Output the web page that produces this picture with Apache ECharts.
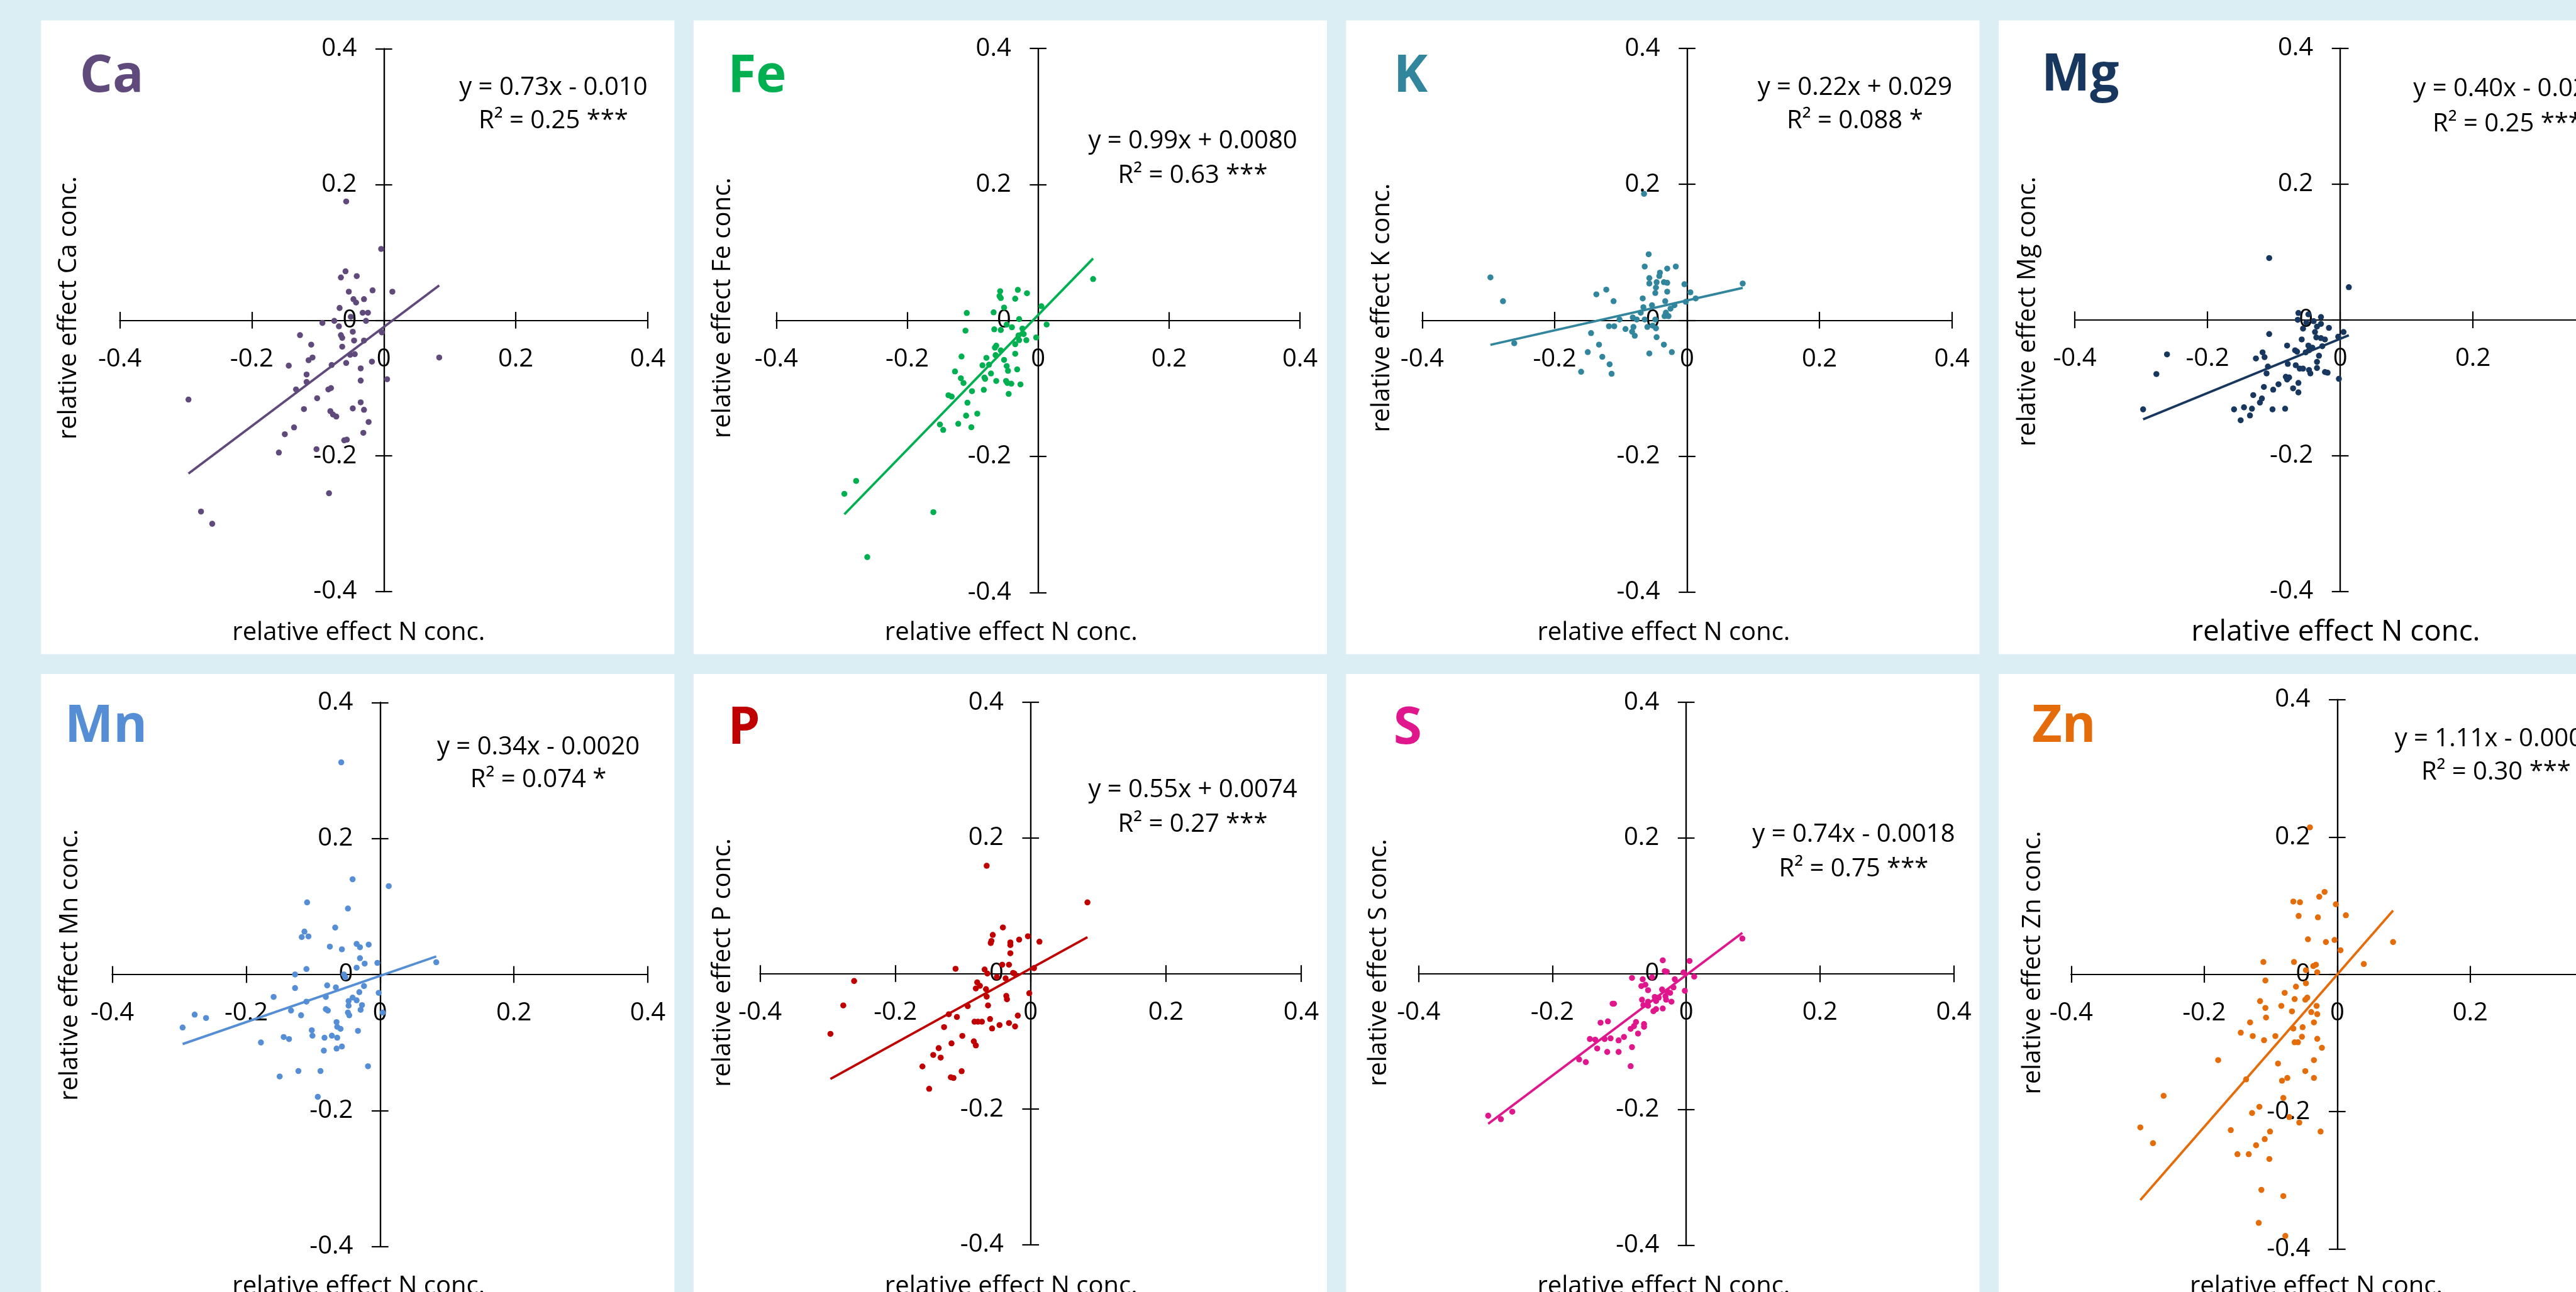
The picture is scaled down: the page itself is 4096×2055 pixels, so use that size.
<!DOCTYPE html>
<html><head><meta charset="utf-8">
<script src="https://cdn.jsdelivr.net/npm/echarts@6/dist/echarts.min.js"></script>
<style>html,body{margin:0;padding:0;background:#DAEEF3;overflow:hidden}#c{width:4096px;height:2055px}</style>
</head><body><div id="c"></div>
<script>
// ---------------- data ----------------
const elements = ['Ca','Fe','K','Mg','Mn','P','S','Zn'];
const slopes = [0.73, 0.99, 0.22, 0.40, 0.34, 0.55, 0.74, 1.11];
const intercepts = [-0.010, 0.0080, 0.029, -0.028, -0.0020, 0.0074, -0.0018, -0.0003];
const eqLabels = ['y = 0.73x - 0.010','y = 0.99x + 0.0080','y = 0.22x + 0.029','y = 0.40x - 0.028',
                  'y = 0.34x - 0.0020','y = 0.55x + 0.0074','y = 0.74x - 0.0018','y = 1.11x - 0.0003'];
const r2Labels = ['R² = 0.25 ***','R² = 0.63 ***','R² = 0.088 *','R² = 0.25 ***',
                  'R² = 0.074 *','R² = 0.27 ***','R² = 0.75 ***','R² = 0.30 ***'];
const tickValues = [-0.4, -0.2, 0, 0.2, 0.4];
const xTitle = 'relative effect N conc.';

const Ca = [[-0.057,0.175],[-0.004,0.105],[-0.058,0.072],[-0.065,0.063],[-0.041,0.065],[-0.053,0.042],[-0.017,0.044],[0.013,0.042],[-0.046,0.031],[-0.042,0.026],[-0.030,0.031],[-0.067,0.018],[-0.032,0.011],[-0.024,0.011],[-0.050,0.005],[-0.027,-0.001],[-0.075,-0.001],[-0.093,-0.004],[-0.068,-0.009],[-0.047,-0.017],[-0.003,-0.018],[-0.065,-0.022],[-0.063,-0.026],[-0.127,-0.022],[-0.045,-0.030],[-0.030,-0.030],[-0.110,-0.036],[-0.063,-0.039],[-0.051,-0.051],[-0.044,-0.050],[-0.108,-0.055],[-0.114,-0.059],[-0.144,-0.067],[-0.079,-0.066],[-0.057,-0.063],[-0.018,-0.061],[-0.035,-0.071],[-0.117,-0.080],[-0.117,-0.091],[-0.035,-0.089],[0.005,-0.087],[0.084,-0.055],[-0.133,-0.102],[-0.084,-0.102],[-0.080,-0.100],[-0.101,-0.115],[-0.035,-0.121],[-0.121,-0.131],[-0.047,-0.130],[-0.030,-0.132],[-0.081,-0.134],[-0.077,-0.139],[-0.072,-0.142],[-0.296,-0.117],[-0.023,-0.150],[-0.136,-0.158],[-0.150,-0.168],[-0.031,-0.166],[-0.060,-0.177],[-0.056,-0.176],[-0.159,-0.195],[-0.102,-0.190],[-0.083,-0.255],[-0.277,-0.282],[-0.260,-0.300]];
const Fe = [[0.084,0.061],[-0.058,0.043],[-0.059,0.036],[-0.057,0.033],[-0.031,0.045],[-0.017,0.040],[-0.035,0.032],[-0.052,0.019],[0.005,0.021],[-0.109,0.011],[-0.068,0.012],[-0.029,0.002],[-0.048,-0.006],[-0.040,-0.010],[-0.067,-0.013],[-0.057,-0.014],[0.013,-0.006],[-0.111,-0.015],[-0.024,-0.012],[-0.022,-0.020],[-0.030,-0.022],[-0.003,-0.025],[-0.029,-0.029],[-0.018,-0.029],[-0.035,-0.035],[-0.064,-0.037],[-0.066,-0.040],[-0.057,-0.044],[-0.035,-0.049],[-0.065,-0.051],[-0.117,-0.053],[-0.079,-0.055],[-0.052,-0.058],[-0.085,-0.066],[-0.075,-0.065],[-0.048,-0.067],[-0.046,-0.074],[-0.032,-0.072],[-0.127,-0.075],[-0.072,-0.078],[-0.118,-0.085],[-0.082,-0.084],[-0.081,-0.086],[-0.114,-0.092],[-0.064,-0.089],[-0.049,-0.089],[-0.047,-0.092],[-0.041,-0.093],[-0.027,-0.094],[-0.101,-0.104],[-0.083,-0.102],[-0.045,-0.108],[-0.137,-0.110],[-0.132,-0.112],[-0.108,-0.121],[-0.093,-0.137],[-0.110,-0.140],[-0.150,-0.153],[-0.122,-0.152],[-0.145,-0.161],[-0.102,-0.157],[-0.278,-0.236],[-0.296,-0.255],[-0.160,-0.282],[-0.261,-0.348]];
const K = [[-0.065,0.186],[-0.058,0.097],[-0.064,0.079],[-0.017,0.079],[-0.030,0.076],[-0.041,0.070],[-0.042,0.065],[-0.057,0.062],[-0.057,0.054],[-0.046,0.056],[-0.035,0.056],[-0.030,0.055],[-0.047,0.048],[-0.004,0.053],[-0.297,0.063],[0.084,0.054],[-0.048,0.040],[-0.030,0.042],[-0.122,0.045],[-0.137,0.038],[0.005,0.041],[-0.067,0.032],[0.013,0.032],[-0.111,0.028],[-0.033,0.028],[-0.278,0.028],[-0.002,0.027],[-0.053,0.022],[-0.019,0.022],[-0.066,0.019],[-0.025,0.017],[-0.070,0.011],[-0.032,0.011],[-0.034,0.006],[-0.028,0.006],[-0.082,0.004],[-0.102,0.001],[-0.076,0.001],[-0.064,0.001],[-0.048,0.001],[-0.118,-0.009],[-0.110,-0.009],[-0.060,-0.010],[-0.052,-0.008],[-0.047,-0.012],[-0.093,-0.013],[-0.081,-0.010],[-0.083,-0.017],[-0.079,-0.023],[-0.145,-0.019],[-0.046,-0.025],[-0.261,-0.034],[-0.133,-0.036],[-0.035,-0.036],[-0.150,-0.047],[-0.057,-0.049],[-0.023,-0.047],[-0.128,-0.054],[-0.117,-0.065],[-0.160,-0.076],[-0.114,-0.079]];
const Mg = [[-0.107,0.091],[0.013,0.048],[-0.063,0.010],[-0.048,0.008],[-0.029,0.004],[-0.064,0.000],[-0.051,-0.004],[-0.040,-0.002],[-0.029,-0.006],[-0.035,-0.010],[-0.056,-0.013],[-0.017,-0.012],[-0.038,-0.018],[0.005,-0.018],[-0.107,-0.021],[-0.003,-0.025],[-0.058,-0.029],[-0.036,-0.026],[-0.029,-0.027],[-0.023,-0.029],[-0.080,-0.038],[-0.048,-0.038],[-0.042,-0.041],[-0.027,-0.039],[-0.068,-0.045],[-0.065,-0.047],[-0.117,-0.048],[-0.052,-0.048],[-0.047,-0.045],[-0.114,-0.055],[-0.127,-0.057],[-0.032,-0.053],[-0.035,-0.062],[-0.079,-0.065],[-0.067,-0.067],[-0.109,-0.069],[-0.061,-0.072],[-0.056,-0.072],[-0.047,-0.074],[-0.035,-0.071],[-0.111,-0.079],[-0.045,-0.079],[-0.023,-0.077],[-0.019,-0.078],[-0.082,-0.084],[-0.077,-0.085],[-0.080,-0.088],[-0.002,-0.087],[-0.063,-0.093],[-0.093,-0.095],[-0.115,-0.099],[-0.101,-0.103],[-0.071,-0.101],[-0.063,-0.107],[-0.131,-0.111],[-0.118,-0.116],[-0.121,-0.122],[-0.145,-0.129],[-0.133,-0.131],[-0.160,-0.132],[-0.102,-0.132],[-0.083,-0.131],[-0.136,-0.141],[-0.150,-0.148],[-0.261,-0.051],[-0.277,-0.080],[-0.297,-0.132]];
const Mn = [[-0.058,0.312],[-0.041,0.140],[0.013,0.130],[-0.109,0.106],[-0.048,0.097],[-0.067,0.069],[-0.113,0.063],[-0.117,0.055],[-0.107,0.056],[-0.075,0.041],[-0.057,0.037],[-0.035,0.045],[-0.030,0.040],[-0.017,0.044],[-0.030,0.024],[-0.023,0.016],[-0.004,0.017],[0.084,0.018],[-0.110,0.008],[-0.035,0.010],[-0.127,0.000],[-0.054,0.000],[-0.052,-0.004],[-0.079,-0.016],[-0.066,-0.019],[-0.024,-0.017],[-0.127,-0.020],[-0.031,-0.026],[-0.002,-0.027],[-0.159,-0.033],[-0.081,-0.033],[-0.041,-0.034],[-0.047,-0.039],[-0.035,-0.038],[-0.110,-0.040],[-0.047,-0.046],[-0.027,-0.045],[-0.081,-0.051],[-0.078,-0.053],[-0.029,-0.052],[-0.133,-0.053],[-0.048,-0.056],[-0.046,-0.060],[0.004,-0.056],[-0.118,-0.060],[-0.277,-0.059],[-0.260,-0.064],[-0.295,-0.078],[-0.065,-0.070],[-0.064,-0.077],[-0.059,-0.080],[-0.102,-0.082],[-0.033,-0.083],[-0.144,-0.092],[-0.136,-0.095],[-0.101,-0.090],[-0.083,-0.093],[-0.072,-0.090],[-0.064,-0.093],[-0.178,-0.100],[-0.084,-0.112],[-0.065,-0.109],[-0.057,-0.106],[-0.018,-0.135],[-0.122,-0.142],[-0.089,-0.142],[-0.150,-0.150],[-0.093,-0.180]];
const P = [[-0.065,0.159],[0.084,0.105],[-0.041,0.068],[-0.056,0.057],[-0.004,0.055],[-0.017,0.050],[-0.058,0.048],[-0.059,0.045],[-0.030,0.046],[-0.030,0.042],[0.013,0.047],[-0.030,0.030],[-0.042,0.013],[-0.032,0.013],[0.005,0.008],[-0.111,0.007],[-0.068,0.006],[-0.064,0.000],[-0.026,0.001],[-0.024,0.000],[-0.050,-0.005],[-0.037,-0.007],[-0.261,-0.011],[-0.079,-0.013],[-0.075,-0.018],[-0.081,-0.022],[-0.066,-0.023],[-0.065,-0.034],[-0.002,-0.029],[-0.036,-0.033],[-0.035,-0.038],[-0.277,-0.047],[-0.093,-0.048],[-0.063,-0.047],[-0.121,-0.060],[-0.109,-0.064],[-0.019,-0.062],[-0.083,-0.071],[-0.078,-0.071],[-0.072,-0.071],[-0.060,-0.067],[-0.032,-0.073],[-0.046,-0.076],[-0.023,-0.078],[-0.057,-0.081],[-0.128,-0.079],[-0.296,-0.089],[-0.101,-0.092],[-0.084,-0.100],[-0.081,-0.106],[-0.117,-0.103],[-0.136,-0.110],[-0.144,-0.120],[-0.133,-0.124],[-0.160,-0.137],[-0.102,-0.144],[-0.118,-0.153],[-0.114,-0.154],[-0.150,-0.170]];
const S_ = [[0.084,0.052],[-0.035,0.020],[0.005,0.019],[-0.032,0.004],[-0.029,0.003],[-0.004,0.002],[-0.051,-0.005],[-0.081,-0.006],[-0.065,-0.008],[0.012,-0.004],[-0.017,-0.008],[-0.061,-0.016],[-0.067,-0.018],[-0.019,-0.020],[-0.036,-0.023],[-0.057,-0.024],[-0.028,-0.026],[-0.002,-0.025],[-0.024,-0.028],[-0.047,-0.034],[-0.041,-0.035],[-0.031,-0.033],[-0.066,-0.038],[-0.030,-0.038],[-0.022,-0.041],[-0.057,-0.041],[-0.045,-0.040],[-0.064,-0.046],[-0.057,-0.047],[-0.110,-0.044],[-0.108,-0.044],[-0.035,-0.051],[-0.049,-0.055],[-0.045,-0.052],[-0.117,-0.070],[-0.128,-0.072],[-0.075,-0.071],[-0.063,-0.074],[-0.063,-0.078],[-0.078,-0.077],[-0.083,-0.081],[-0.072,-0.088],[-0.144,-0.096],[-0.136,-0.097],[-0.122,-0.096],[-0.113,-0.095],[-0.093,-0.093],[-0.101,-0.098],[-0.133,-0.110],[-0.118,-0.115],[-0.101,-0.115],[-0.081,-0.108],[-0.160,-0.126],[-0.150,-0.130],[-0.083,-0.136],[-0.296,-0.209],[-0.277,-0.214],[-0.260,-0.203]];
const Zn = [[-0.041,0.214],[-0.019,0.120],[-0.027,0.113],[-0.066,0.106],[-0.056,0.105],[-0.002,0.102],[0.013,0.086],[-0.058,0.085],[-0.029,0.083],[-0.044,0.051],[-0.017,0.047],[-0.004,0.050],[0.084,0.047],[0.005,0.035],[-0.111,0.018],[-0.065,0.018],[0.040,0.015],[-0.032,0.014],[-0.036,0.012],[-0.030,0.003],[-0.047,0.006],[-0.108,-0.009],[-0.047,-0.013],[-0.062,-0.018],[-0.079,-0.027],[-0.116,-0.039],[-0.064,-0.036],[-0.048,-0.037],[-0.045,-0.034],[-0.031,-0.046],[-0.108,-0.049],[-0.084,-0.046],[-0.068,-0.054],[-0.039,-0.055],[-0.030,-0.058],[-0.107,-0.063],[-0.131,-0.070],[-0.035,-0.070],[-0.066,-0.079],[-0.052,-0.077],[-0.145,-0.085],[-0.127,-0.090],[-0.093,-0.090],[-0.053,-0.091],[-0.110,-0.096],[-0.064,-0.099],[-0.059,-0.099],[-0.030,-0.094],[-0.023,-0.107],[-0.179,-0.125],[-0.035,-0.125],[-0.089,-0.130],[-0.048,-0.141],[-0.137,-0.153],[-0.075,-0.151],[-0.083,-0.155],[-0.035,-0.151],[-0.261,-0.177],[-0.081,-0.180],[-0.117,-0.193],[-0.128,-0.202],[-0.072,-0.208],[-0.057,-0.216],[-0.296,-0.223],[-0.160,-0.227],[-0.101,-0.229],[-0.025,-0.229],[-0.109,-0.240],[-0.122,-0.249],[-0.277,-0.246],[-0.150,-0.262],[-0.133,-0.262],[-0.102,-0.269],[-0.114,-0.314],[-0.081,-0.323],[-0.118,-0.362],[-0.078,-0.381]];
const pointSets = [Ca, Fe, K, Mg, Mn, P, S_, Zn];

// ---------------- styles & layout (reference px) ----------------
const colors = ['#604A7B','#00B050','#31859C','#17375E','#558ED5','#C00000','#E0168C','#E46C0A'];
const SC = 4096 / 4299;
const FONT = '"Open Sans", "Noto Sans", sans-serif';
const panelLeft = [68.5, 1157.5, 2246.5, 3335.5, 68.5, 1157.5, 2246.5, 3335.5];
const panelTop  = [34, 34, 34, 34, 1125, 1125, 1125, 1125];
const panelW = 1057, panelH = 1058;
// [x of -0.4, x of 0.4, y of 0.4, y of -0.4] relative to panel
const plotGeom = [[131.5,1012.5,47.4,953.7],[138,1012,47,955],[127,1011,47,954],[127,1013,46.7,953],
                  [119,1012.5,47.8,955.8],[111,1014,47.5,953],[121,1014,47.5,954],[121,1009,43,960]];
const labelPos = [[64.5,95],[57,95],[79,95],[71.5,93],[39.5,89],[57,92],[79,92],[56,89]];
const eqPos = [[855,112,168],[833,202,259],[849,112,168],[849,115,173],[830,122,177],[833,194,252],[847,268,326],[830,108.5,164]];
const yTitlePos = [[46.5,480],[49,480],[60,480],[49,486],[48.5,486],[49,482],[55,482],[57,482]];
const xTitlePos = [[530,1023],[530,1023],[530,1023],[562.5,1022],[530,1023],[530,1023],[530,1023],[530,1023]];
const xTitleSize = [42,42,42,48,42,42,42,42];

const s = v => v * SC;
const fmt = v => { const r = Math.round(v * 10) / 10; return r === 0 ? '0' : String(r); };

const grids = [], xAxes = [], yAxes = [], series = [], gfx = [];
const n = elements.length;
const axisCommon = {type: 'value', min: tickValues[0], max: tickValues[tickValues.length - 1],
  interval: tickValues[1] - tickValues[0], splitLine: {show: false}};
const lineStyle = {color: '#000', width: 2.2};

for (let pass = 0; pass < 2; pass++) {
  for (let i = 0; i < n; i++) {
    const g = plotGeom[i];
    const w = s(g[1] - g[0]), h = s(g[3] - g[2]);
    grids.push({left: s(panelLeft[i] + g[0]), top: s(panelTop[i] + g[2]),
      width: w, height: h, containLabel: false, outerBoundsMode: 'none'});
    const gi = pass * n + i;
    xAxes.push(Object.assign({}, axisCommon, {gridIndex: gi, position: 'bottom', offset: -h / 2,
      axisLine: {show: true, onZero: false, lineStyle},
      axisTick: {show: true, inside: pass === 1, length: s(14), lineStyle},
      axisLabel: {show: pass === 0, formatter: fmt, margin: s(44), fontSize: s(42), fontFamily: FONT, color: '#000'}}));
    yAxes.push(Object.assign({}, axisCommon, {gridIndex: gi, position: 'left', offset: -w / 2,
      axisLine: {show: true, onZero: false, lineStyle},
      axisTick: {show: true, inside: pass === 1, length: s(14), lineStyle},
      axisLabel: {show: pass === 0, formatter: fmt, margin: s(45), fontSize: s(42), fontFamily: FONT, color: '#000'}}));
  }
}

for (let i = 0; i < n; i++) {
  const pts = pointSets[i];
  const xs = pts.map(p => p[0]);
  const x0 = Math.min(...xs), x1 = Math.max(...xs);
  series.push({type: 'scatter', xAxisIndex: i, yAxisIndex: i, data: pts, symbol: 'circle',
    symbolSize: s(10), itemStyle: {color: colors[i], opacity: 1}, z: 3, silent: true});
  series.push({type: 'line', xAxisIndex: i, yAxisIndex: i, symbol: 'none', silent: true, z: 4,
    data: [[x0, slopes[i] * x0 + intercepts[i]], [x1, slopes[i] * x1 + intercepts[i]]],
    lineStyle: {color: colors[i], width: s(4)}});

  const L = panelLeft[i], T = panelTop[i];
  gfx.push({type: 'rect', z: -10, silent: true, shape: {x: s(L), y: s(T), width: s(panelW), height: s(panelH)},
    style: {fill: '#FFFFFF'}});
  gfx.push({type: 'text', z: 20, silent: true, x: s(L + labelPos[i][0]), y: s(T + labelPos[i][1]),
    style: {text: elements[i], fill: colors[i], font: 'bold ' + s(86) + 'px ' + FONT,
      align: 'left', verticalAlign: 'middle', textAlign: 'left', textVerticalAlign: 'middle'}});
  gfx.push({type: 'text', z: 20, silent: true, x: s(L + eqPos[i][0]), y: s(T + eqPos[i][1]),
    style: {text: eqLabels[i], fill: '#000', font: s(42) + 'px ' + FONT,
      align: 'center', verticalAlign: 'middle', textAlign: 'center', textVerticalAlign: 'middle'}});
  gfx.push({type: 'text', z: 20, silent: true, x: s(L + eqPos[i][0]), y: s(T + eqPos[i][2]),
    style: {text: r2Labels[i], fill: '#000', font: s(42) + 'px ' + FONT,
      align: 'center', verticalAlign: 'middle', textAlign: 'center', textVerticalAlign: 'middle'}});
  gfx.push({type: 'text', z: 20, silent: true, x: s(L + yTitlePos[i][0]), y: s(T + yTitlePos[i][1]),
    rotation: Math.PI / 2,
    style: {text: 'relative effect ' + elements[i] + ' conc.', fill: '#000', font: s(42) + 'px ' + FONT,
      align: 'center', verticalAlign: 'middle', textAlign: 'center', textVerticalAlign: 'middle'}});
  gfx.push({type: 'text', z: 20, silent: true, x: s(L + xTitlePos[i][0]), y: s(T + xTitlePos[i][1]),
    style: {text: xTitle, fill: '#000', font: s(xTitleSize[i]) + 'px ' + FONT,
      align: 'center', verticalAlign: 'middle', textAlign: 'center', textVerticalAlign: 'middle'}});
}

const chart = echarts.init(document.getElementById('c'), null, {renderer: 'canvas'});
chart.setOption({
  backgroundColor: '#DAEEF3',
  animation: false,
  grid: grids, xAxis: xAxes, yAxis: yAxes, series: series,
  graphic: {elements: gfx}
});
</script></body></html>
